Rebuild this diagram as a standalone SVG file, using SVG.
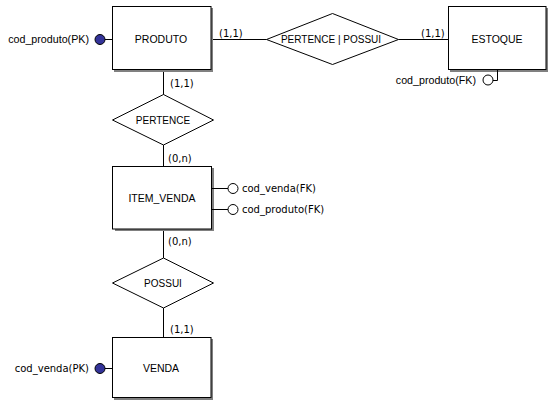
<svg xmlns="http://www.w3.org/2000/svg" width="555" height="407" viewBox="0 0 555 407">
<style>
.box{fill:#fff;stroke:#000;stroke-width:1}
.sh{fill:#808080}
.dm{fill:#fff;stroke:#000;stroke-width:1}
.ln{stroke:#000;stroke-width:1;fill:none}
.t{font-family:"Liberation Sans",Arial,sans-serif;font-size:10.5px;fill:#000}
.r{font-family:"Liberation Sans",Arial,sans-serif;font-size:10px;fill:#000}
.a{font-family:"Liberation Sans",Arial,sans-serif;font-size:10.7px;fill:#000}
.c{font-family:"DejaVu Sans",Verdana,sans-serif;font-size:10px;fill:#000}
.pk{fill:#333399;stroke:#000;stroke-width:1}
.fk{fill:#fff;stroke:#000;stroke-width:1}
</style>
<rect width="555" height="407" fill="#fff"/>
<g id="connectors">
<path class="ln" d="M211.5 39.5H266.5"/>
<path class="ln" d="M398.5 39.5H448.5"/>
<path class="ln" d="M163.5 70V95"/>
<path class="ln" d="M163.5 145V166"/>
<path class="ln" d="M163.5 229V258"/>
<path class="ln" d="M163.5 308V337"/>
<text class="c" x="219" y="37">(1,1)</text>
<text class="c" x="421" y="37">(1,1)</text>
<text class="c" x="170" y="87">(1,1)</text>
<text class="c" x="168" y="162">(0,n)</text>
<text class="c" x="168" y="245">(0,n)</text>
<text class="c" x="170" y="333">(1,1)</text>
</g>
<g id="produto">
<rect class="sh" x="114" y="8" width="99" height="64"/>
<rect class="box" x="112.5" y="6.5" width="98.5" height="63"/>
<text class="t" x="161" y="43" text-anchor="middle">PRODUTO</text>
<path class="ln" d="M105 39.5H112"/>
<circle class="pk" cx="100" cy="39.5" r="5"/>
<text class="a" x="89" y="43" text-anchor="end">cod_produto(PK)</text>
</g>
<g id="estoque">
<rect class="sh" x="450" y="8" width="98" height="64"/>
<rect class="box" x="448.5" y="6.5" width="97.5" height="63"/>
<text class="t" x="497" y="43" text-anchor="middle">ESTOQUE</text>
<path class="ln" d="M493 80.5H497.5V70"/>
<circle class="fk" cx="488" cy="80" r="5"/>
<text class="a" x="476" y="84" text-anchor="end">cod_produto(FK)</text>
</g>
<g id="pertence_possui">
<polygon class="dm" points="266.5,39.5 332.5,13.5 398.5,39.5 332.5,64.5"/>
<text class="r" x="331" y="43" text-anchor="middle">PERTENCE | POSSUI</text>
</g>
<g id="pertence">
<polygon class="dm" points="112.5,120 163.5,94.5 213.5,120 163.5,145"/>
<text class="r" x="163" y="124" text-anchor="middle">PERTENCE</text>
</g>
<g id="item_venda">
<rect class="sh" x="115" y="168" width="99" height="63"/>
<rect class="box" x="112.5" y="166.5" width="99" height="62.5"/>
<text class="t" x="162" y="202" text-anchor="middle">ITEM_VENDA</text>
<path class="ln" d="M211.5 188.5H228"/>
<circle class="fk" cx="233" cy="188.5" r="5"/>
<text class="c" x="242" y="192">cod_venda(FK)</text>
<path class="ln" d="M211.5 209.5H228"/>
<circle class="fk" cx="233" cy="209.5" r="5"/>
<text class="c" x="242" y="213">cod_produto(FK)</text>
</g>
<g id="possui">
<polygon class="dm" points="112.5,283 163.5,258 213.5,283 163.5,308"/>
<text class="r" x="163" y="287" text-anchor="middle">POSSUI</text>
</g>
<g id="venda">
<rect class="sh" x="114" y="339" width="99" height="61"/>
<rect class="box" x="112.5" y="337.5" width="98.5" height="60"/>
<text class="t" x="161" y="372" text-anchor="middle">VENDA</text>
<path class="ln" d="M105 368.5H112"/>
<circle class="pk" cx="100" cy="368.5" r="5"/>
<text class="c" x="89" y="372" text-anchor="end">cod_venda(PK)</text>
</g>
</svg>
